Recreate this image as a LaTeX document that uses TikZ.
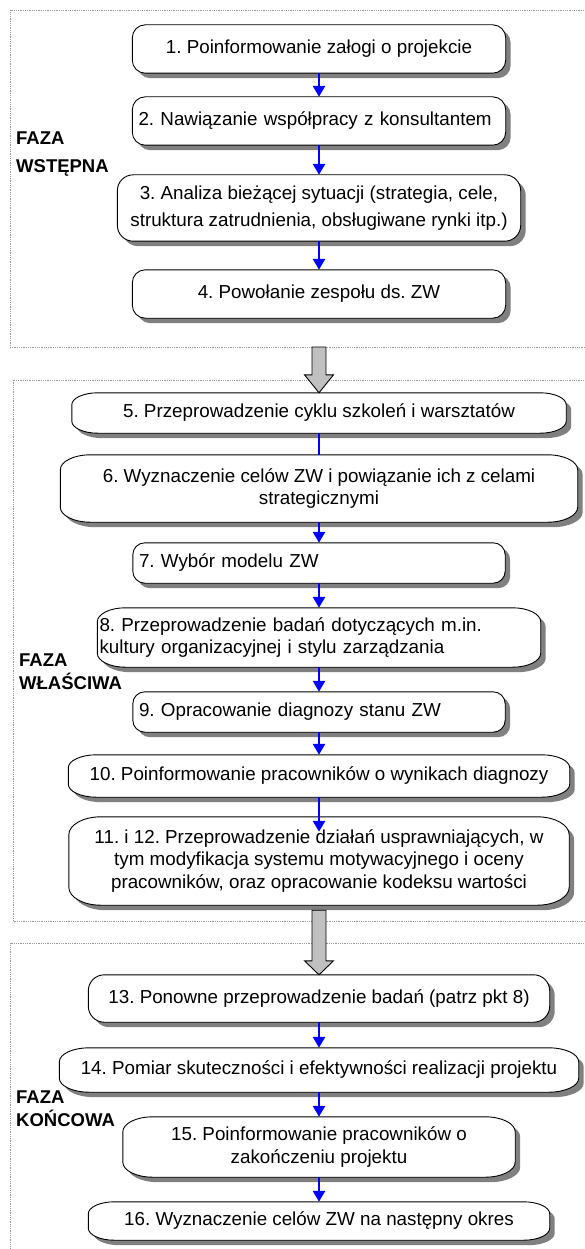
\documentclass[tikz,border=0pt]{standalone}
\usepackage{fontspec}
\setmainfont{Liberation Sans}
\usepackage{tikz}
\usetikzlibrary{arrows.meta, calc, backgrounds, shadows}
\definecolor{flowblue}{HTML}{0000FF}
\definecolor{boxshadow}{HTML}{808080}
\definecolor{framegray}{HTML}{9A9A9A}
\definecolor{phasefill}{HTML}{C0C0C0}
\frenchspacing

\tikzset{
  stepbox/.style={inner xsep=6pt, inner ysep=2pt, align=center, font=\fontsize{18.8}{22.5}\selectfont},
  leftbox/.style={align=left, text width=#1},
  stepshape/.style={draw=black, line width=0.9pt, fill=white,
    drop shadow={shadow xshift=5pt, shadow yshift=-5pt, opacity=1, fill=boxshadow}},
  phaseframe/.style={draw=framegray, line width=0.8pt, densely dotted},
  phaselabel/.style={anchor=west, align=left, inner sep=2pt, font=\bfseries\fontsize{18.5}{23}\selectfont},
  flowarrow/.style={flowblue, line width=2.6pt, -{Triangle[width=12pt, length=11pt]}},
  flowline/.style={flowblue, line width=2.6pt},
  phasearrow/.style={draw=black, line width=0.9pt, fill=phasefill},
}

\begin{document}
\begin{tikzpicture}[x=1pt, y=1pt]
    \useasboundingbox (0,0) rectangle (584,-1249);

    % Faza wstepna
    \node[stepbox, minimum width=373pt, minimum height=48pt] (b1) at (319,-49) {1. Poinformowanie załogi o projekcie};
    \node[stepbox, leftbox=361pt, minimum height=48pt] (b2) at (319,-121) {2. Nawiązanie współpracy z konsultantem};
    \node[stepbox, minimum width=403pt, minimum height=66pt] (b3) at (319,-208) {3. Analiza bieżącej sytuacji (strategia, cele,\\[4pt] struktura zatrudnienia, obsługiwane rynki itp.)};
    \node[stepbox, minimum width=373pt, minimum height=48pt] (b4) at (319,-294) {4. Powołanie zespołu ds. ZW};
    \node[phaselabel] (l1) at (14,-154) {FAZA\\[5pt]WSTĘPNA};

    % Faza wlasciwa
    \node[stepbox, minimum width=494pt, minimum height=40pt] (b5) at (319,-413) {5. Przeprowadzenie cyklu szkoleń i warsztatów};
    \node[stepbox, minimum width=517pt, minimum height=67pt] (b6) at (319,-488.5) {6. Wyznaczenie celów ZW i powiązanie ich z celami\\strategicznymi};
    \node[stepbox, leftbox=360pt, minimum height=40pt] (b7) at (319,-563) {7. Wybór modelu ZW};
    \node[stepbox, inner xsep=2pt, leftbox=439pt, minimum height=59pt] (b8) at (319,-637.5) {8. Przeprowadzenie badań dotyczących m.in.\\kultury organizacyjnej i stylu zarządzania};
    \node[stepbox, leftbox=360pt, minimum height=40pt] (b9) at (319,-712) {9. Opracowanie diagnozy stanu ZW};
    \node[stepbox, minimum width=501pt, minimum height=42pt] (b10) at (319,-776) {10. Poinformowanie pracowników o wynikach diagnozy};
    \node[stepbox, minimum width=500pt, minimum height=88pt] (b11) at (319,-861) {11. i 12. Przeprowadzenie działań usprawniających, w\\tym modyfikacja systemu motywacyjnego i oceny\\pracowników, oraz opracowanie kodeksu wartości};
    \node[phaselabel] (l2) at (17,-671.5) {FAZA\\WŁAŚCIWA};

    % Faza koncowa
    \node[stepbox, minimum width=461pt, minimum height=47pt] (b13) at (319,-998.5) {13. Ponowne przeprowadzenie badań (patrz pkt 8)};
    \node[stepbox, minimum width=519pt, minimum height=44pt] (b14) at (319,-1070) {14. Pomiar skuteczności i efektywności realizacji projektu};
    \node[stepbox, minimum width=392pt, minimum height=60pt] (b15) at (319,-1147) {15. Poinformowanie pracowników o\\zakończeniu projektu};
    \node[stepbox, minimum width=461pt, minimum height=38pt] (b16) at (319,-1221) {16. Wyznaczenie celów ZW na następny okres};
    \node[phaselabel] (l3) at (14,-1108.5) {FAZA\\KOŃCOWA};

    % frames and box outlines behind the text
    \begin{scope}[on background layer]
        \draw[phaseframe] (600,-10) -- (10,-10) -- (10,-347) -- (600,-347);
        \draw[phaseframe] (600,-380) -- (13,-380) -- (13,-921) -- (600,-921);
        \draw[phaseframe] (600,-943) -- (10,-943) -- (10,-1260);
        \foreach \bx/\rx/\ry in {b1/13/13, b2/13/13, b3/16/16, b4/13/13, b5/26/12, b6/30/15,
                                b7/12/12, b8/28/14, b9/12/12, b10/28/13, b11/32/18,
                                b13/16/16, b14/30/14, b15/30/15, b16/26/12} {
            \path[stepshape] let \p1=(\bx.south west), \p2=(\bx.north east) in
                (\x1+\rx,\y1) -- (\x2-\rx,\y1)
                arc[start angle=270, end angle=360, x radius=\rx, y radius=\ry]
                -- (\x2,\y2-\ry)
                arc[start angle=0, end angle=90, x radius=\rx, y radius=\ry]
                -- (\x1+\rx,\y2)
                arc[start angle=90, end angle=180, x radius=\rx, y radius=\ry]
                -- (\x1,\y1+\ry)
                arc[start angle=180, end angle=270, x radius=\rx, y radius=\ry]
                -- cycle;
        }
    \end{scope}

    % blue steps
    \draw[flowarrow] (b1) -- (b2);
    \draw[flowarrow] (b2) -- (b3);
    \draw[flowarrow] (b3) -- (b4);
    \draw[flowline] (b5) -- (b6);
    \draw[flowarrow] (b6) -- (b7);
    \draw[flowarrow] (b7) -- (b8);
    \draw[flowarrow] (b8) -- (b9);
    \draw[flowarrow] (b9) -- (b10);
    \draw[flowarrow, shorten >=-15pt] (b10) -- (b11);
    \draw[flowarrow] (b13) -- (b14);
    \draw[flowarrow] (b14) -- (b15);
    \draw[flowarrow] (b15) -- (b16);

    % phase arrows
    \coordinate (f1) at (319,-347);
    \coordinate (f2) at ($(b11.south)+(0,-5)$);
    \draw[phasearrow] let \p1=(f1), \p2=(b5.north) in
        (\x1-7,\y1) -- (\x1+7,\y1) -- (\x1+7,\y2+18) -- (\x1+14.5,\y2+18) -- (\x2,\y2)
        -- (\x1-14.5,\y2+18) -- (\x1-7,\y2+18) -- cycle;
    \draw[phasearrow] let \p1=(f2), \p2=(b13.north) in
        (\x1-7,\y1) -- (\x1+7,\y1) -- (\x1+7,\y2+14) -- (\x1+14.5,\y2+14) -- (\x2,\y2)
        -- (\x1-14.5,\y2+14) -- (\x1-7,\y2+14) -- cycle;
\end{tikzpicture}
\end{document}
